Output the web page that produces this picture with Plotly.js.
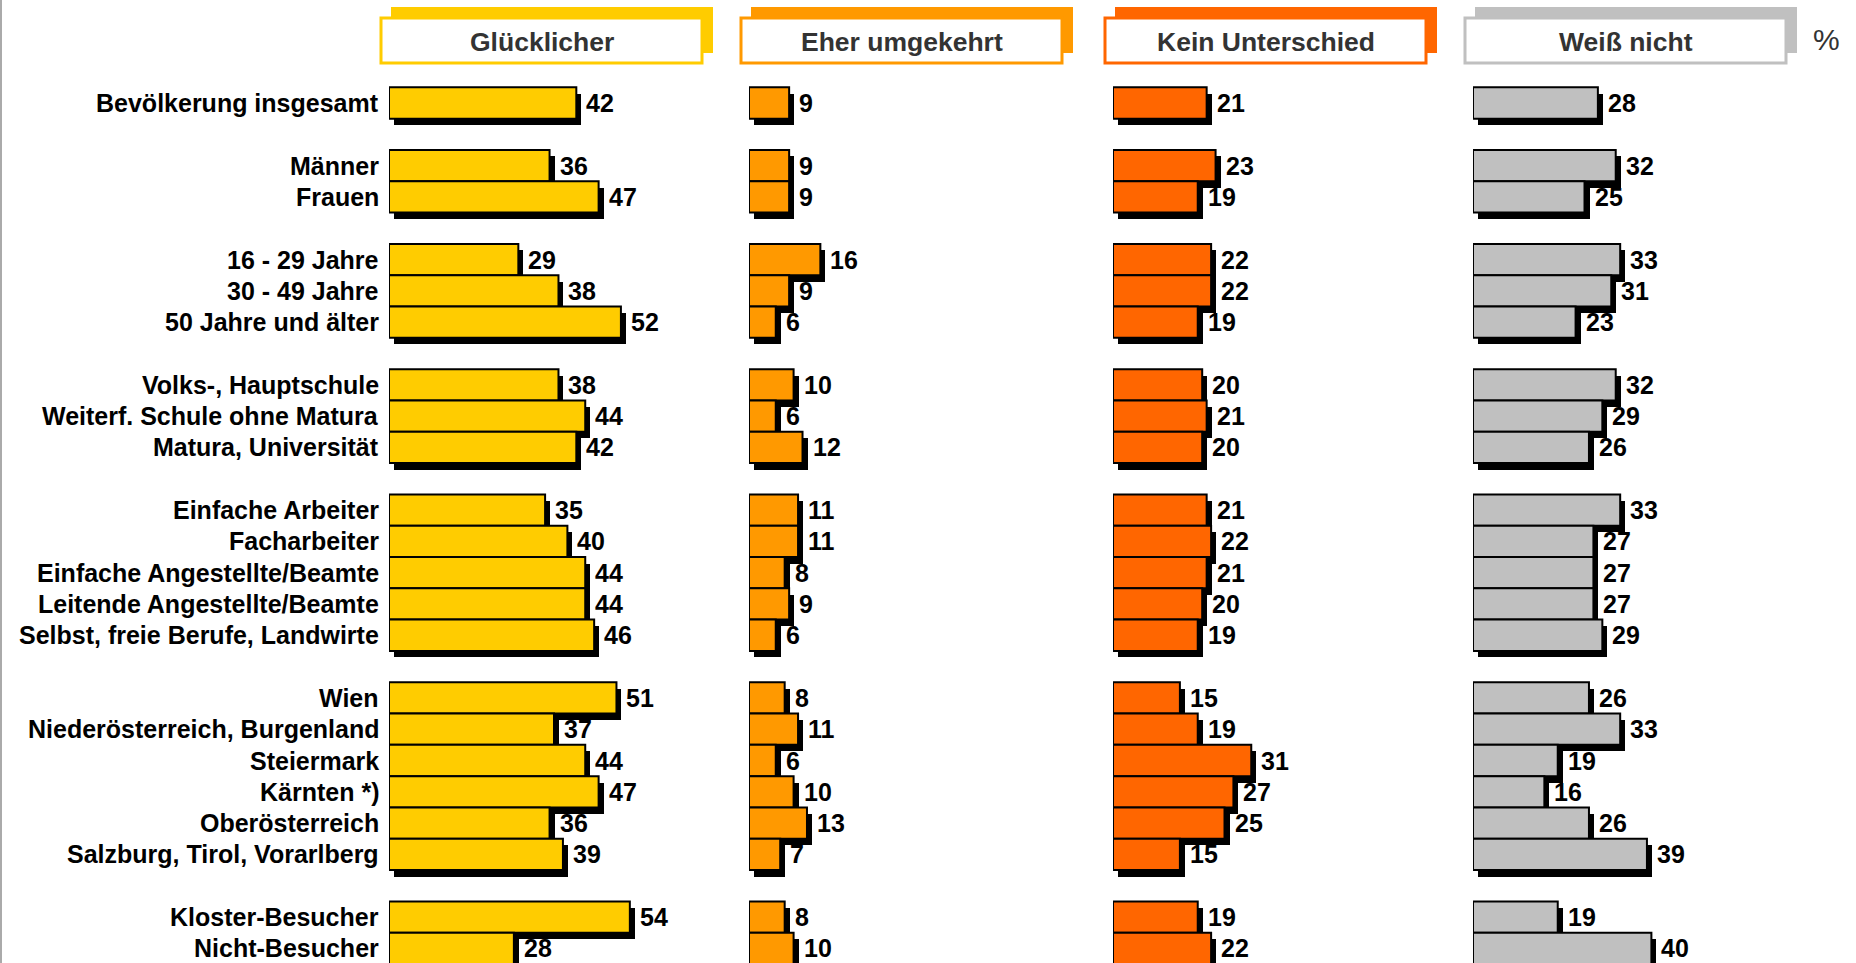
<!DOCTYPE html>
<html>
<head>
<meta charset="utf-8">
<script src="https://cdn.plot.ly/plotly-3.0.1.min.js"></script>
<style>html,body{margin:0;padding:0;background:#fff;}#chart{width:1856px;height:963px;}</style>
</head>
<body>
<div id="chart"></div>
<script>
// ---- data ----
const groups = [
  ["Bevölkerung insgesamt"],
  ["Männer", "Frauen"],
  ["16 - 29 Jahre", "30 - 49 Jahre", "50 Jahre und älter"],
  ["Volks-, Hauptschule", "Weiterf. Schule ohne Matura", "Matura, Universität"],
  ["Einfache Arbeiter", "Facharbeiter", "Einfache Angestellte/Beamte", "Leitende Angestellte/Beamte", "Selbst, freie Berufe, Landwirte"],
  ["Wien", "Niederösterreich, Burgenland", "Steiermark", "Kärnten *)", "Oberösterreich", "Salzburg, Tirol, Vorarlberg"],
  ["Kloster-Besucher", "Nicht-Besucher"]
];
const seriesNames = ["Glücklicher", "Eher umgekehrt", "Kein Unterschied", "Weiß nicht"];
const gluecklicher = [42, 36, 47, 29, 38, 52, 38, 44, 42, 35, 40, 44, 44, 46, 51, 37, 44, 47, 36, 39, 54, 28];
const eherUmgekehrt = [9, 9, 9, 16, 9, 6, 10, 6, 12, 11, 11, 8, 9, 6, 8, 11, 6, 10, 13, 7, 8, 10];
const keinUnterschied = [21, 23, 19, 22, 22, 19, 20, 21, 20, 21, 22, 21, 20, 19, 15, 19, 31, 27, 25, 15, 19, 22];
const weissNicht = [28, 32, 25, 33, 31, 23, 32, 29, 26, 33, 27, 27, 27, 29, 26, 33, 19, 16, 26, 39, 19, 40];
const unitLabel = "%";

// ---- layout constants ----
const W = 1856, H = 963;
const colors = ["#FFCC00", "#FF9900", "#FF6600", "#C0C0C0"];
const colOrigins = [389, 749, 1113, 1473];   // px of zero line of each panel
const pxPerUnit = 4.46;
const xMax = 80;
const rowPitch = 31.31, firstRowPx = 103;
const shadowDx = 5, shadowDy = 6.5;
const FONT = "Liberation Sans, Arial, Helvetica, sans-serif";

// slot positions (one empty slot between groups)
const categories = [];
const slots = [];
let s = 0;
groups.forEach((g, gi) => {
  if (gi > 0) s += 1;
  g.forEach(c => { categories.push(c); slots.push(s); s += 1; });
});

const series = [gluecklicher, eherUmgekehrt, keinUnterschied, weissNicht];
const traces = [];
const annotations = [];
const shapes = [];
const layout = {
  width: W, height: H,
  margin: {l: 0, r: 0, t: 0, b: 0, pad: 0},
  paper_bgcolor: "#fff", plot_bgcolor: "rgba(0,0,0,0)",
  showlegend: false,
  barmode: "overlay",
  bargap: 0,
  yaxis: {
    range: [(H - firstRowPx) / rowPitch, -firstRowPx / rowPitch],
    autorange: false, visible: false, domain: [0, 1], anchor: "x", fixedrange: true
  },
  font: {family: FONT}
};

series.forEach((vals, k) => {
  const xa = k === 0 ? "x" : "x" + (k + 1);
  const axKey = k === 0 ? "xaxis" : "xaxis" + (k + 1);
  const d0 = colOrigins[k] / W;
  const d1 = (colOrigins[k] + xMax * pxPerUnit) / W;
  layout[axKey] = {domain: [d0, d1], range: [0, xMax], autorange: false, visible: false, anchor: "y", fixedrange: true};
  // shadow
  traces.push({
    type: "bar", orientation: "h", xaxis: xa, yaxis: "y",
    x: vals, y: slots.map(v => v + shadowDy / rowPitch),
    base: vals.map(() => shadowDx / pxPerUnit),
    width: 1, marker: {color: "#000", line: {color: "#000", width: 0}},
    hoverinfo: "skip"
  });
  // bars
  traces.push({
    type: "bar", orientation: "h", xaxis: xa, yaxis: "y",
    x: vals, y: slots, width: 1, name: seriesNames[k],
    marker: {color: colors[k], line: {color: "#000", width: 2}},
    hoverinfo: "x+name"
  });
  // value labels
  vals.forEach((v, i) => {
    annotations.push({
      xref: xa, yref: "y", x: v, y: slots[i], xanchor: "left", yanchor: "middle",
      xshift: 8, text: String(v), showarrow: false,
      font: {family: FONT, size: 25, color: "#000", weight: "bold"}
    });
  });
  // header box
  const bx0 = colOrigins[k] - 8, bx1 = bx0 + 321;
  const by0 = 18, by1 = 63;
  shapes.push({type: "rect", xref: "paper", yref: "paper",
    x0: (bx0 + 10) / W, x1: (bx1 + 11) / W, y0: 1 - (by1 - 10) / H, y1: 1 - (by0 - 11) / H,
    fillcolor: colors[k], line: {width: 0}, layer: "above"});
  shapes.push({type: "rect", xref: "paper", yref: "paper",
    x0: bx0 / W, x1: bx1 / W, y0: 1 - by1 / H, y1: 1 - by0 / H,
    fillcolor: "#fff", line: {color: colors[k], width: 3}, layer: "above"});
  annotations.push({
    xref: "paper", yref: "paper", x: (bx0 + bx1) / 2 / W, y: 1 - ((by0 + by1) / 2 + 2) / H,
    xanchor: "center", yanchor: "middle", text: seriesNames[k], showarrow: false,
    font: {family: FONT, size: 26.5, color: "#333333", weight: "bold"}
  });
});

// category labels
categories.forEach((c, i) => {
  annotations.push({
    xref: "paper", yref: "y", x: (colOrigins[0] - 8) / W, y: slots[i],
    xanchor: "right", yanchor: "middle", text: c, showarrow: false,
    font: {family: FONT, size: 25, color: "#000", weight: "bold"}
  });
});

// unit label
annotations.push({
  xref: "paper", yref: "paper", x: 1826 / W, y: 1 - 39 / H,
  xanchor: "center", yanchor: "middle", text: unitLabel, showarrow: false,
  font: {family: FONT, size: 30, color: "#333333"}
});

// left slide border
shapes.push({type: "line", xref: "paper", yref: "paper", x0: 1 / W, x1: 1 / W, y0: 0, y1: 1,
  line: {color: "#AAAAAA", width: 2}});

layout.annotations = annotations;
layout.shapes = shapes;

Plotly.newPlot("chart", traces, layout, {displayModeBar: false, staticPlot: true});
</script>
</body>
</html>
